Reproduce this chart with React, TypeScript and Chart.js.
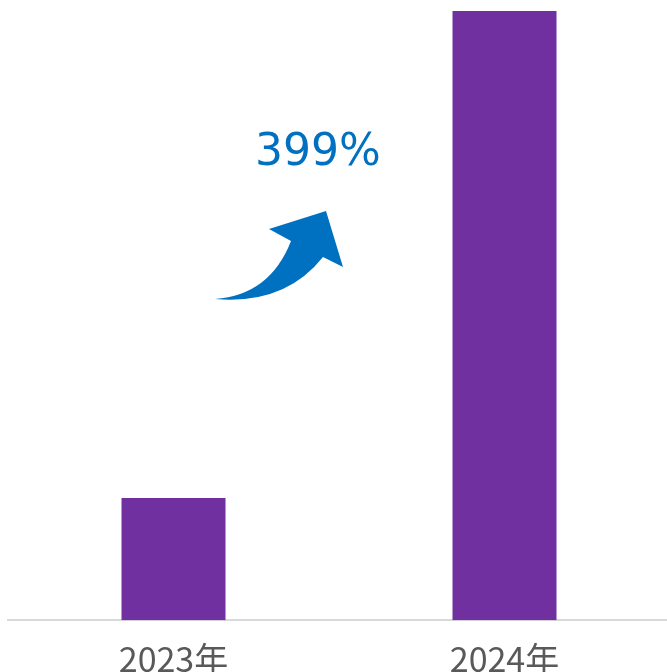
import React, { useEffect, useRef } from "react";
import { Chart, registerables } from "chart.js";

Chart.register(...registerables);

const categories = ["2023年", "2024年"];
const seriesValues = [100, 499];
const barColor = "#7030A0";
const growthColor = "#0070C0";

const growthPlugin = {
  id: "growthArrow",
  afterDatasetsDraw(chart: any) {
    const { ctx, chartArea } = chart;
    const L = chartArea.left;
    const T = chartArea.top;
    const pct = Math.round(((seriesValues[1] - seriesValues[0]) / seriesValues[0]) * 100);
    ctx.save();
    // label
    ctx.fillStyle = growthColor;
    ctx.font = '44px "DejaVu Sans"';
    ctx.textAlign = "center";
    ctx.textBaseline = "alphabetic";
    ctx.fillText(pct + "%", L + 310, T + 154);
    // arrow
    const p = (x: number, y: number) => [L + x - 8, T + y - 11];
    ctx.beginPath();
    let a = p(215, 299);
    ctx.moveTo(a[0], a[1]);
    let c = p(270, 295), e = p(291, 241);
    ctx.quadraticCurveTo(c[0], c[1], e[0], e[1]);
    a = p(269, 229); ctx.lineTo(a[0], a[1]);
    a = p(326, 211); ctx.lineTo(a[0], a[1]);
    a = p(343, 267); ctx.lineTo(a[0], a[1]);
    a = p(323, 257); ctx.lineTo(a[0], a[1]);
    c = p(285, 305); e = p(215, 299);
    ctx.quadraticCurveTo(c[0], c[1], e[0], e[1]);
    ctx.closePath();
    ctx.fillStyle = growthColor;
    ctx.fill();
    ctx.restore();
  },
};

export default function App() {
  const ref = useRef<HTMLCanvasElement | null>(null);
  useEffect(() => {
    if (!ref.current) return;
    const chart = new Chart(ref.current, {
      type: "bar",
      data: {
        labels: categories,
        datasets: [
          {
            data: seriesValues,
            backgroundColor: barColor,
            borderWidth: 0,
            categoryPercentage: 1,
            barPercentage: 0.3142,
          },
        ],
      },
      options: {
        animation: false,
        responsive: false,
        maintainAspectRatio: false,
        devicePixelRatio: 1,
        layout: { padding: { left: 8, right: 0, top: 11, bottom: 0 } },
        plugins: {
          legend: { display: false },
          tooltip: { enabled: false },
        },
        scales: {
          x: {
            grid: { display: false },
            border: { color: "#D9D9D9", width: 2 },
            ticks: {
              color: "#595959",
              padding: 10,
              font: { family: '"Noto Sans CJK SC"', size: 34 },
            },
          },
          y: {
            display: false,
            min: 0,
            max: 499,
          },
        },
      },
      plugins: [growthPlugin],
    });
    return () => chart.destroy();
  }, []);
  return (
    <div style={{ position: "absolute", left: 0, top: 0, width: 667, height: 672, overflow: "hidden", background: "#fff" }}>
      <canvas ref={ref} width={670} height={689} style={{ display: "block", width: 670, height: 689 }} />
    </div>
  );
}
